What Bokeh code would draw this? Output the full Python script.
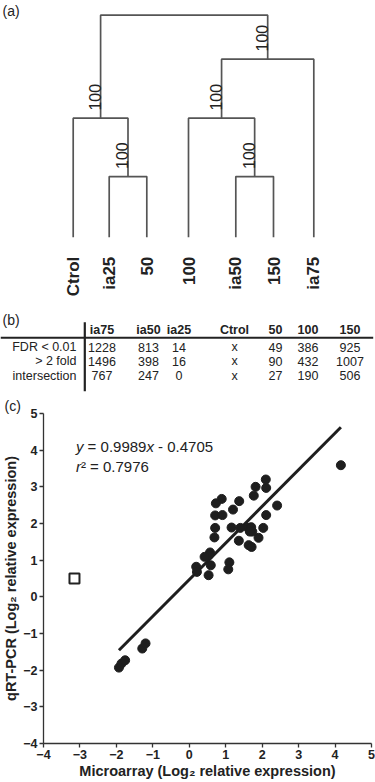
import math
from bokeh.plotting import figure
from bokeh.models import Range1d, FixedTicker
from bokeh.core.properties import value
from bokeh.embed import file_html
from bokeh.resources import INLINE

FONT = "Liberation Sans"
INK = "#222222"

# ---------------- data ----------------
# (a) dendrogram
leaves = ["Ctrol", "ia25", "50", "100", "ia50", "150", "ia75"]
leaf_pos = [72.7, 108.7, 146.3, 188.0, 235.3, 273.0, 313.3]
merges = [(1, 2), (4, 5), (0, 7), (3, 8), (10, 6), (9, 11)]
merge_height = [0.273, 0.273, 0.536, 0.536, 0.802, 1.0]
bootstrap = [100, 100, 100, 100, 100, None]

# (b) table
table_cols = ["ia75", "ia50", "ia25", "Ctrol", "50", "100", "150"]
row_names = ["FDR < 0.01", "> 2 fold", "intersection"]
fdr = ["1228", "813", "14", "x", "49", "386", "925"]
fold = ["1496", "398", "16", "x", "90", "432", "1007"]
inter = ["767", "247", "0", "x", "27", "190", "506"]

# (c) scatter
micro = [4.16, 2.10, 2.11, 1.82, 1.77, 2.41, 2.11, 2.03, 1.90,
         1.62, 1.70, 1.73, 1.66, 1.63, 1.71, 1.37, 1.20, 1.16, 1.40,
         1.36, 0.89, 0.73, 0.71, 0.91, 0.71, 0.69, 0.57, 0.54, 0.42,
         0.59, 0.53, 0.19, 0.21, 1.10, 1.07,
         -1.93, -1.86, -1.76, -1.29, -1.20]
qpcr = [3.59, 3.20, 2.97, 3.00, 2.76, 2.49, 2.23, 1.88, 1.61,
        1.88, 1.90, 1.78, 1.78, 1.41, 1.36, 2.61, 2.38, 1.89, 1.88,
        1.53, 2.67, 2.55, 2.22, 2.23, 1.88, 1.62, 1.21, 1.14, 1.09,
        0.86, 0.59, 0.82, 0.68, 0.94, 0.75,
        -1.93, -1.82, -1.73, -1.41, -1.27]
outlier_x = [-3.15]
outlier_y = [0.50]
fit_slope = 0.9989
fit_intercept = 0.4705
ticks = list(range(-4, 6))

W = 375

# ---------------- (a) dendrogram ----------------
H1 = 300
px_per_h = 222.0
y_top = 1.0 + 14.7 / px_per_h
y_bot = y_top - H1 / px_per_h

p1 = figure(width=W, height=H1, x_range=Range1d(0, W), y_range=Range1d(y_bot, y_top),
            x_axis_type=None, y_axis_type=None, output_backend="svg",
            toolbar_location=None, min_border=0)
p1.outline_line_color = None
for g in p1.grid:
    g.visible = False

node_x = list(leaf_pos)
node_h = [0.0] * len(leaves)
xs, ys = [], []
for (a, b), h in zip(merges, merge_height):
    xs.append([node_x[a], node_x[a], node_x[b], node_x[b]])
    ys.append([node_h[a], h, h, node_h[b]])
    node_x.append((node_x[a] + node_x[b]) / 2.0)
    node_h.append(h)
p1.multi_line(xs, ys, line_color="#555555", line_width=1.7)

bx, by, bt = [], [], []
for i, s in enumerate(bootstrap):
    if s is None:
        continue
    n = len(leaves) + i
    bx.append(node_x[n]); by.append(node_h[n]); bt.append(str(s))
p1.text(bx, by, bt, angle=math.pi / 2, text_align="center", text_baseline="alphabetic",
        x_offset=-6, y_offset=-21, text_font=value(FONT), text_font_size="16px",
        text_color=INK)

p1.text(leaf_pos, [0.0] * len(leaves), leaves, angle=math.pi / 2, text_align="right",
        text_baseline="middle", y_offset=19.5, text_font=value(FONT),
        text_font_size="17px", text_font_style="bold", text_color=INK)

p1.text([2], [y_top - 10 / px_per_h], ["(a)"], text_align="left", text_baseline="middle",
        text_font=value(FONT), text_font_size="14px", text_color=INK)

# ---------------- (b) table ----------------
H2 = 95
p2 = figure(width=W, height=H2, x_range=Range1d(0, W), y_range=Range1d(H2, 0),
            x_axis_type=None, y_axis_type=None, output_backend="svg",
            toolbar_location=None, min_border=0)
p2.outline_line_color = None
for g in p2.grid:
    g.visible = False

col_x = [101.5, 148.0, 178.5, 234.0, 275.0, 307.5, 349.5]
row_y = [46.7, 60.7, 75.0]
p2.text(col_x, [29.0] * len(col_x), table_cols, text_align="center", text_baseline="middle",
        text_font=value(FONT), text_font_size="12.5px", text_font_style="bold",
        text_color=INK)
p2.text([76.0] * 3, row_y, row_names, text_align="right", text_baseline="middle",
        text_font=value(FONT), text_font_size="12.5px", text_color=INK)
for ry, vals in zip(row_y, [fdr, fold, inter]):
    p2.text(col_x, [ry] * len(col_x), vals, text_align="center", text_baseline="middle",
            text_font=value(FONT), text_font_size="12.5px", text_color=INK)
p2.segment(x0=[0], y0=[37.3], x1=[372.7], y1=[37.3], line_color=INK, line_width=2)
p2.segment(x0=[84.3], y0=[21.7], x1=[84.3], y1=[90.7], line_color=INK, line_width=2.2)
p2.text([2], [19.0], ["(b)"], text_align="left", text_baseline="middle",
        text_font=value(FONT), text_font_size="14px", text_color=INK)

# ---------------- (c) scatter ----------------
H3 = 782 - H1 - H2
p3 = figure(width=W, height=H3, x_range=Range1d(-4, 5), y_range=Range1d(-4, 5),
            output_backend="svg", toolbar_location=None, title="(c)",
            min_border_left=41, min_border_right=4, min_border_top=17, min_border_bottom=39)
p3.outline_line_color = None
p3.grid.visible = False
p3.title.text_font = FONT
p3.title.text_font_size = "14px"
p3.title.text_font_style = "normal"
p3.title.text_color = INK
p3.title.offset = -39
p3.title.standoff = 0

overrides = {t: ("\u2212%d" % (-t) if t < 0 else str(t)) for t in ticks}
for ax in (p3.xaxis[0], p3.yaxis[0]):
    ax.ticker = FixedTicker(ticks=ticks)
    ax.major_label_overrides = overrides
    ax.major_label_text_font = FONT
    ax.major_label_text_font_size = "12.5px"
    ax.major_label_text_font_style = "bold"
    ax.major_label_text_color = INK
    ax.major_tick_out = 4
    ax.major_tick_in = 0
    ax.minor_tick_line_color = None
    ax.axis_line_color = "#333333"
    ax.major_tick_line_color = "#333333"
    ax.axis_line_width = 1.3
    ax.major_tick_line_width = 1.3
    ax.major_label_standoff = 2
    ax.axis_label_text_font = FONT
    ax.axis_label_text_font_size = "14.5px"
    ax.axis_label_text_font_style = "bold"
    ax.axis_label_text_color = INK
    ax.axis_label_standoff = 1
p3.xaxis.axis_label = "Microarray (Log\u2082 relative expression)"
p3.yaxis.axis_label = "qRT-PCR (Log\u2082 relative expression)"

lx = [min(micro), max(micro)]
ly = [fit_slope * v + fit_intercept for v in lx]
p3.line(lx, ly, line_color="#1e1e1e", line_width=3)
p3.scatter(micro, qpcr, size=9, fill_color="#1e1e1e", line_color="#1e1e1e")
p3.scatter(outlier_x, outlier_y, marker="square", size=10, fill_color="white",
           line_color="#222222", line_width=2)

# equation (Arial advance widths in em)
s = 15.0
eq_x, eq_y = -3.11, 4.11
common = dict(text_font=value(FONT), text_font_size="15px", text_baseline="middle",
              text_color=INK)
p3.text([eq_x], [eq_y], ["y"], text_font_style="italic", **common)
p3.text([eq_x], [eq_y], ["= %.4f" % fit_slope], x_offset=(0.5 + 0.278) * s, **common)
p3.text([eq_x], [eq_y], ["x"], x_offset=4.698 * s, text_font_style="italic", **common)
p3.text([eq_x], [eq_y], ["- %.4f" % fit_intercept], x_offset=(5.198 + 0.278) * s, **common)
r_y = 3.56
p3.text([eq_x], [r_y], ["r"], text_font_style="italic", **common)
p3.text([eq_x], [r_y], ["\u00b2 = 0.7976"], x_offset=0.333 * s, **common)

open("out.html", "w").write(file_html([p1, p2, p3], INLINE))
